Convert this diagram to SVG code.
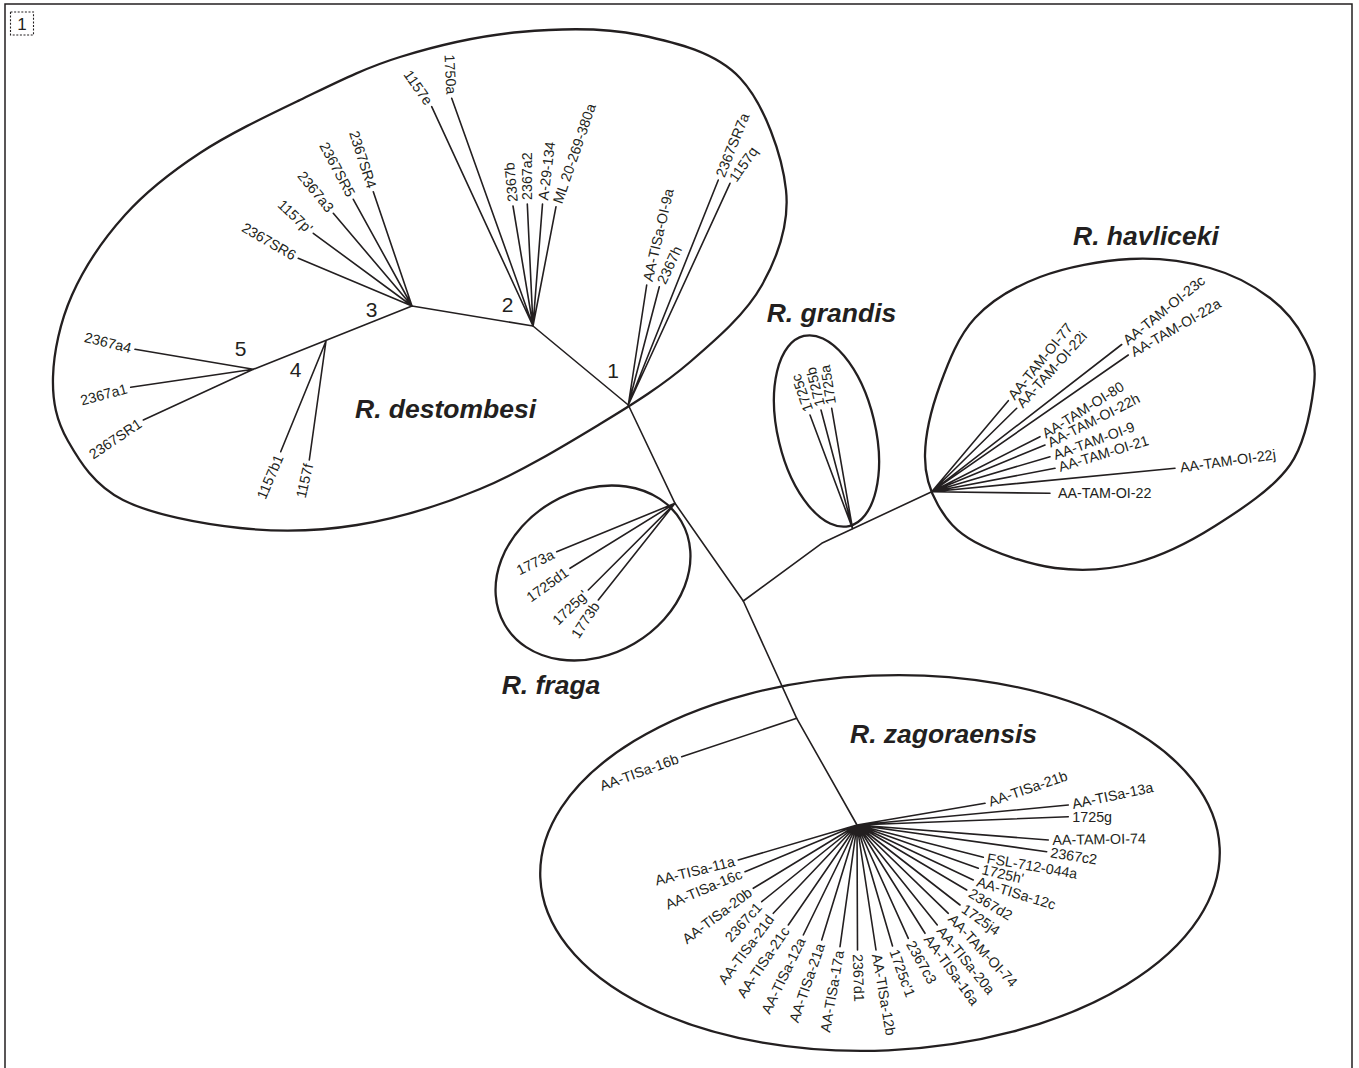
<svg xmlns="http://www.w3.org/2000/svg" width="1359" height="1068" viewBox="0 0 1359 1068">
<style>
.bg{fill:#ffffff}
.fr{fill:none;stroke:#231f20;stroke-width:1.5}
.db{fill:none;stroke:#231f20;stroke-width:1.1;stroke-dasharray:2 1.6}
.br{fill:none;stroke:#231f20;stroke-width:1.6;stroke-linecap:round;stroke-linejoin:round}
.cl{fill:none;stroke:#231f20;stroke-width:2.3}
.l{font-family:"Liberation Sans",Arial,Helvetica,sans-serif;font-size:14.3px;fill:#231f20;dominant-baseline:central}
.e{text-anchor:end}
.sp{font-family:"Liberation Sans",Arial,Helvetica,sans-serif;font-size:26.5px;font-weight:bold;font-style:italic;fill:#231f20}
.n{font-family:"Liberation Sans",Arial,Helvetica,sans-serif;font-size:21px;fill:#231f20;text-anchor:middle}
</style>
<rect class="bg" x="0" y="0" width="1359" height="1068"/>
<path class="fr" d="M5 1068V4H1352V1068"/>
<g id="panel-label">
<rect class="db" x="10.5" y="12" width="23" height="23"/>
<text class="n" x="22" y="29.8" style="font-size:17px">1</text>
</g>

<g id="clusters">
<g id="cluster-destombesi">
<path class="cl" d="M53,377 C53.67,352.67 60,322 72,295 C84,268 103.67,238.67 125,215 C146.33,191.33 170.83,172.17 200,153 C229.17,133.83 266.67,116 300,100 C333.33,84 363.33,68.33 400,57 C436.67,45.67 480,35.67 520,32 C560,28.33 603.33,27.33 640,35 C676.67,42.67 715.67,52.17 740,78 C764.33,103.83 782.33,155.5 786,190 C789.67,224.5 778,256.33 762,285 C746,313.67 717,338.83 690,362 C663,385.17 635,402.83 600,424 C565,445.17 520.5,472.17 480,489 C439.5,505.83 397,518.5 357,525 C317,531.5 279,532.17 240,528 C201,523.83 151.67,514.5 123,500 C94.33,485.5 79.67,461.5 68,441 C56.33,420.5 52.33,401.33 53,377 Z"/>
<text class="sp" x="355" y="418">R. destombesi</text>
</g>
<g id="cluster-grandis">
<ellipse class="cl" cx="826.5" cy="431" rx="48.7" ry="97.7" transform="rotate(-13.4 826.5 431)"/>
<text class="sp" x="766.7" y="321.7">R. grandis</text>
</g>
<g id="cluster-havliceki">
<path class="cl" d="M925,455 C925.33,435 931.67,407.83 940,385 C948.33,362.17 958.33,336 975,318 C991.67,300 1014.17,286.83 1040,277 C1065.83,267.17 1101.67,260.5 1130,259 C1158.33,257.5 1186.67,261.5 1210,268 C1233.33,274.5 1254.17,286 1270,298 C1285.83,310 1297.67,325.5 1305,340 C1312.33,354.5 1316.5,364.17 1314,385 C1311.5,405.83 1306.5,441.5 1290,465 C1273.5,488.5 1240.83,509.67 1215,526 C1189.17,542.33 1161.67,556 1135,563 C1108.33,570 1081.67,571.5 1055,568 C1028.33,564.5 994.5,552.5 975,542 C955.5,531.5 946.33,519.5 938,505 C929.67,490.5 924.67,475 925,455 Z"/>
<text class="sp" x="1073" y="245">R. havliceki</text>
</g>
<g id="cluster-fraga">
<ellipse class="cl" cx="593" cy="573" rx="102.3" ry="81.8" transform="rotate(-30.4 593 573)"/>
<text class="sp" x="501.7" y="694">R. fraga</text>
</g>
<g id="cluster-zagoraensis">
<ellipse class="cl" cx="880" cy="863" rx="340" ry="187.5" transform="rotate(-2.5 880 863)"/>
<text class="sp" x="850" y="742.5">R. zagoraensis</text>
</g>
</g>

<g id="connectors" class="br">
<path d="M628.3,405 L533,326 L412,306 L253.3,369.3"/>
<path d="M628.3,405 L675,503.3 L743.3,601 L821.7,543.3 L931.7,491.7"/>
<path d="M743.3,601 L796.7,718.3 L857,825"/>
<path d="M796.7,718.3 L681.7,756.7"/>
<path d="M412,306 L298.3,258.3 M412,306 L313.3,233.3 M412,306 L333.3,213.3 M412,306 L353.3,199.3 M412,306 L373.3,191.7"/>
<path d="M533,326 L431.7,106.7 M533,326 L451.7,98.3 M533,326 L513,206 M533,326 L527.3,204 M533,326 L542.5,204 M533,326 L556,206.7"/>
<path d="M628.3,405 L646.7,285 M628.3,405 L659.3,286.7 M628.3,405 L718.3,180 M628.3,405 L730,183.3"/>
<path d="M253.3,369.3 L135,349.3 M253.3,369.3 L130.7,387.3 M253.3,369.3 L143.3,420"/>
<path d="M326,341 L280.7,451.7 M326,341 L309.3,460"/>
<path d="M675,503.3 L556.7,551.7 M675,503.3 L570,568.3 M675,503.3 L588.3,590 M675,503.3 L598.3,600"/>
<path d="M852.5,528.5 L810,415 M852.5,528.5 L821,410 M852.5,528.5 L831.7,408.3"/>
<path d="M931.7,491.7 L1008.3,400.7 M931.7,491.7 L1016.7,408.3 M931.7,491.7 L1121.7,344.5 M931.7,491.7 L1128.3,355 M931.7,491.7 L1040,436.7 M931.7,491.7 L1045,445 M931.7,491.7 L1050,456.7 M931.7,491.7 L1055,468.3 M931.7,491.7 L1175,468.3 M931.7,491.7 L1050,493.3"/>
<path d="M857,825 L738.3,860 M857,825 L745,871.7 M857,825 L753.3,888.3 M857,825 L761.7,901.7 M857,825 L773.3,913.3 M857,825 L788.3,925 M857,825 L803.3,935 M857,825 L821.7,940 M857,825 L840,946.7 M857,825 L857.5,950 M857,825 L876,950 M857,825 L892.5,946 M857,825 L908.3,938.3 M857,825 L925,933.3 M857,825 L937.3,925 M857,825 L948.3,913.3 M857,825 L960,905 M857,825 L966.7,890 M857,825 L973.3,880 M857,825 L978.3,868.3 M857,825 L983.3,857.3 M857,825 L1046.7,851.7 M857,825 L1048.3,840 M857,825 L1068.3,816.7 M857,825 L1068.3,805 M857,825 L985,803.3"/>
</g>

<g id="internal-node-labels">
<text class="n" x="613" y="378">1</text>
<text class="n" x="507.5" y="311.7">2</text>
<text class="n" x="371.5" y="317">3</text>
<text class="n" x="295.5" y="377">4</text>
<text class="n" x="240.5" y="356">5</text>
</g>

<g id="leaves-destombesi">
<g id="leaf-2367SR6"><text class="l e" x="-4" transform="translate(298.3,258.3) rotate(30)">2367SR6</text></g>
<g id="leaf-1157p"><text class="l e" x="-4" transform="translate(313.3,233.3) rotate(43)">1157p'</text></g>
<g id="leaf-2367a3"><text class="l e" x="-4" transform="translate(333.3,213.3) rotate(51)">2367a3</text></g>
<g id="leaf-2367SR5"><text class="l e" x="-4" transform="translate(353.3,199.3) rotate(62)">2367SR5</text></g>
<g id="leaf-2367SR4"><text class="l e" x="-4" transform="translate(373.3,191.7) rotate(72)">2367SR4</text></g>
<g id="leaf-1157e"><text class="l e" x="-4" transform="translate(431.7,106.7) rotate(55)">1157e</text></g>
<g id="leaf-1750a"><text class="l e" x="-4" transform="translate(451.7,98.3) rotate(87)">1750a</text></g>
<g id="leaf-2367b"><text class="l" x="4" transform="translate(513,206) rotate(-95)">2367b</text></g>
<g id="leaf-2367a2"><text class="l" x="4" transform="translate(527.3,204) rotate(-90)">2367a2</text></g>
<g id="leaf-A-29-134"><text class="l" x="4" transform="translate(542.5,204) rotate(-83)">A-29-134</text></g>
<g id="leaf-ML"><text class="l" x="4" transform="translate(556,206.7) rotate(-71)">ML 20-269-380a</text></g>
<g id="leaf-AA-TISa-OI-9a"><text class="l" x="4" transform="translate(646.7,285) rotate(-77)">AA-TISa-OI-9a</text></g>
<g id="leaf-2367h"><text class="l" x="4" transform="translate(659.3,286.7) rotate(-65)">2367h</text></g>
<g id="leaf-2367SR7a"><text class="l" x="4" transform="translate(718.3,180) rotate(-68)">2367SR7a</text></g>
<g id="leaf-1157q"><text class="l" x="4" transform="translate(730,183.3) rotate(-55)">1157q</text></g>
<g id="leaf-2367a4"><text class="l e" x="-4" transform="translate(135,349.3) rotate(14)">2367a4</text></g>
<g id="leaf-2367a1"><text class="l e" x="-4" transform="translate(130.7,387.3) rotate(-15)">2367a1</text></g>
<g id="leaf-2367SR1"><text class="l e" x="-4" transform="translate(143.3,420) rotate(-34)">2367SR1</text></g>
<g id="leaf-1157b1"><text class="l e" x="-4" transform="translate(280.7,451.7) rotate(-67)">1157b1</text></g>
<g id="leaf-1157f"><text class="l e" x="-4" transform="translate(309.3,460) rotate(-77)">1157f</text></g>
</g>

<g id="leaves-grandis">
<g id="leaf-1725c"><text class="l" x="4" transform="translate(810,415) rotate(-110)">1725c</text></g>
<g id="leaf-1725b"><text class="l" x="4" transform="translate(821,410) rotate(-104)">1725b</text></g>
<g id="leaf-1725a"><text class="l" x="4" transform="translate(831.7,408.3) rotate(-99)">1725a</text></g>
</g>

<g id="leaves-havliceki">
<g id="leaf-AA-TAM-OI-77"><text class="l" x="4" transform="translate(1008.3,400.7) rotate(-51)">AA-TAM-OI-77</text></g>
<g id="leaf-AA-TAM-OI-22i"><text class="l" x="4" transform="translate(1016.7,408.3) rotate(-48)">AA-TAM-OI-22i</text></g>
<g id="leaf-AA-TAM-OI-23c"><text class="l" x="4" transform="translate(1121.7,344.5) rotate(-39)">AA-TAM-OI-23c</text></g>
<g id="leaf-AA-TAM-OI-22a"><text class="l" x="4" transform="translate(1128.3,355) rotate(-30)">AA-TAM-OI-22a</text></g>
<g id="leaf-AA-TAM-OI-80"><text class="l" x="4" transform="translate(1040,436.7) rotate(-32)">AA-TAM-OI-80</text></g>
<g id="leaf-AA-TAM-OI-22h"><text class="l" x="4" transform="translate(1045,445) rotate(-27)">AA-TAM-OI-22h</text></g>
<g id="leaf-AA-TAM-OI-9"><text class="l" x="4" transform="translate(1050,456.7) rotate(-20)">AA-TAM-OI-9</text></g>
<g id="leaf-AA-TAM-OI-21"><text class="l" x="4" transform="translate(1055,468.3) rotate(-17)">AA-TAM-OI-21</text></g>
<g id="leaf-AA-TAM-OI-22j"><text class="l" x="5" transform="translate(1175,468.3) rotate(-8)">AA-TAM-OI-22j</text></g>
<g id="leaf-AA-TAM-OI-22"><text class="l" x="8" transform="translate(1050,493.3)">AA-TAM-OI-22</text></g>
</g>

<g id="leaves-fraga">
<g id="leaf-1773a"><text class="l e" x="-4" transform="translate(556.7,551.7) rotate(-26)">1773a</text></g>
<g id="leaf-1725d1"><text class="l e" x="-4" transform="translate(570,568.3) rotate(-36)">1725d1</text></g>
<g id="leaf-1725g"><text class="l e" x="-4" transform="translate(588.3,590) rotate(-44)">1725g'</text></g>
<g id="leaf-1773b"><text class="l e" x="-4" transform="translate(598.3,600) rotate(-57)">1773b</text></g>
</g>

<g id="leaves-zagoraensis">
<g id="leaf-AA-TISa-16b"><text class="l e" x="-4" transform="translate(681.7,756.7) rotate(-20)">AA-TISa-16b</text></g>
<g id="leaf-AA-TISa-11a"><text class="l e" x="-4" transform="translate(738.3,860) rotate(-14)">AA-TISa-11a</text></g>
<g id="leaf-AA-TISa-16c"><text class="l e" x="-4" transform="translate(745,871.7) rotate(-23)">AA-TISa-16c</text></g>
<g id="leaf-AA-TISa-20b"><text class="l e" x="-4" transform="translate(753.3,888.3) rotate(-37)">AA-TISa-20b</text></g>
<g id="leaf-2367c1"><text class="l e" x="-4" transform="translate(761.7,901.7) rotate(-48)">2367c1</text></g>
<g id="leaf-AA-TISa-21d"><text class="l e" x="-4" transform="translate(773.3,913.3) rotate(-53)">AA-TISa-21d</text></g>
<g id="leaf-AA-TISa-21c"><text class="l e" x="-4" transform="translate(788.3,925) rotate(-56)">AA-TISa-21c</text></g>
<g id="leaf-AA-TISa-12a"><text class="l e" x="-4" transform="translate(803.3,935) rotate(-64)">AA-TISa-12a</text></g>
<g id="leaf-AA-TISa-21a"><text class="l e" x="-4" transform="translate(821.7,940) rotate(-71)">AA-TISa-21a</text></g>
<g id="leaf-AA-TISa-17a"><text class="l e" x="-4" transform="translate(840,946.7) rotate(-80)">AA-TISa-17a</text></g>
<g id="leaf-2367d1"><text class="l" x="4" transform="translate(857.5,950) rotate(88)">2367d1</text></g>
<g id="leaf-AA-TISa-12b"><text class="l" x="4" transform="translate(876,950) rotate(80)">AA-TISa-12b</text></g>
<g id="leaf-1725c1"><text class="l" x="4" transform="translate(892.5,946) rotate(70)">1725c'1</text></g>
<g id="leaf-2367c3"><text class="l" x="4" transform="translate(908.3,938.3) rotate(61)">2367c3</text></g>
<g id="leaf-AA-TISa-16a"><text class="l" x="4" transform="translate(925,933.3) rotate(54)">AA-TISa-16a</text></g>
<g id="leaf-AA-TISa-20a"><text class="l" x="4" transform="translate(937.3,925) rotate(51)">AA-TISa-20a</text></g>
<g id="leaf-AA-TAM-OI-74b"><text class="l" x="4" transform="translate(948.3,913.3) rotate(47)">AA-TAM-OI-74</text></g>
<g id="leaf-1725j4"><text class="l" x="4" transform="translate(960,905) rotate(35)">1725j4</text></g>
<g id="leaf-2367d2"><text class="l" x="4" transform="translate(966.7,890) rotate(31)">2367d2</text></g>
<g id="leaf-AA-TISa-12c"><text class="l" x="4" transform="translate(973.3,880) rotate(17)">AA-TISa-12c</text></g>
<g id="leaf-1725h"><text class="l" x="4" transform="translate(978.3,868.3) rotate(13)">1725h'</text></g>
<g id="leaf-FSL-712-044a"><text class="l" x="4" transform="translate(983.3,857.3) rotate(10)">FSL-712-044a</text></g>
<g id="leaf-2367c2"><text class="l" x="4" transform="translate(1046.7,851.7) rotate(9)">2367c2</text></g>
<g id="leaf-AA-TAM-OI-74a"><text class="l" x="4" transform="translate(1048.3,840) rotate(-1)">AA-TAM-OI-74</text></g>
<g id="leaf-1725g-z"><text class="l" x="4" transform="translate(1068.3,816.7) rotate(0)">1725g</text></g>
<g id="leaf-AA-TISa-13a"><text class="l" x="4" transform="translate(1068.3,805) rotate(-12)">AA-TISa-13a</text></g>
<g id="leaf-AA-TISa-21b"><text class="l" x="4" transform="translate(985,803.3) rotate(-19)">AA-TISa-21b</text></g>
</g>
</svg>
